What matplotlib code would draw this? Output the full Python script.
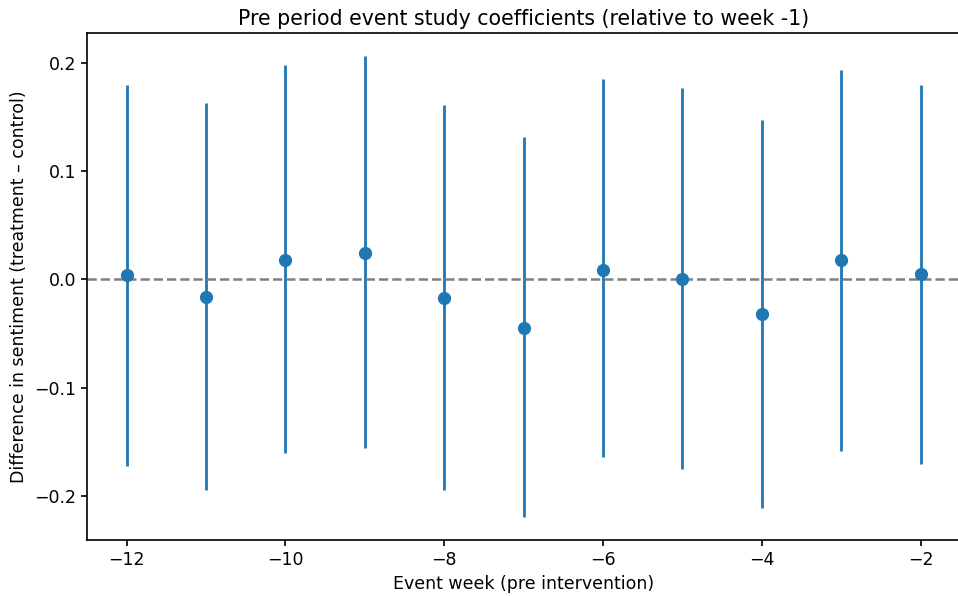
import matplotlib
matplotlib.use('Agg')
import matplotlib.pyplot as plt

# Event study coefficients
weeks = [-12, -11, -10, -9, -8, -7, -6, -5, -4, -3, -2]
coef = [0.004, -0.016, 0.018, 0.024, -0.017, -0.045, 0.009, 0.000, -0.032, 0.018, 0.005]
ci_low = [-0.172, -0.194, -0.160, -0.155, -0.194, -0.219, -0.164, -0.175, -0.211, -0.158, -0.170]
ci_high = [0.179, 0.163, 0.198, 0.206, 0.161, 0.131, 0.185, 0.177, 0.147, 0.193, 0.179]

err_low = [c - l for c, l in zip(coef, ci_low)]
err_high = [h - c for c, h in zip(coef, ci_high)]

fig = plt.figure(figsize=(9.58, 5.96), dpi=100)
# the original is cropped on the right, so the axes run past the figure edge
ax = fig.add_axes([0.0908, 0.094, 0.9117, 0.8506])
ax.errorbar(weeks, coef, yerr=[err_low, err_high], fmt='o', color='#1f77b4',
            markersize=8.5, elinewidth=2, capsize=0)
ax.axhline(0, color='gray', linestyle='--', linewidth=1.8)
ax.set_xlim(-12.5, -1.5)
ax.set_xticks([-12, -10, -8, -6, -4, -2])
ax.set_yticks([-0.2, -0.1, 0.0, 0.1, 0.2])
ax.tick_params(labelsize=12.5, width=1.2, length=4.5)
for s in ax.spines.values():
    s.set_linewidth(1.2)
ax.spines['right'].set_visible(False)
ax.set_title('Pre period event study coefficients (relative to week -1)', fontsize=14.8)
ax.set_xlabel('Event week (pre intervention)', fontsize=12.5)
ax.set_ylabel('Difference in sentiment (treatment \u2013 control)', fontsize=12.5)
fig.savefig('out.png', dpi=100)
